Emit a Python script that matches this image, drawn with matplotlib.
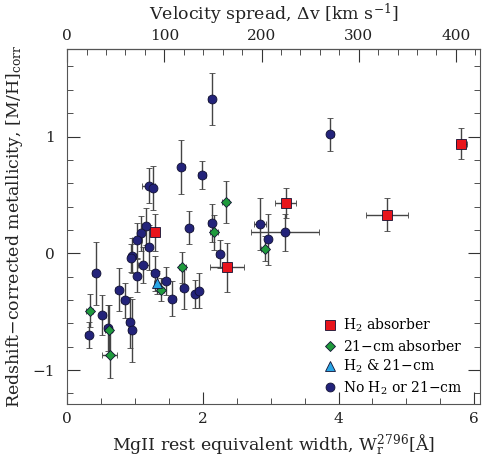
import numpy as np
import matplotlib.pyplot as plt
from matplotlib.lines import Line2D
from matplotlib.ticker import MultipleLocator, FixedLocator

plt.rcParams['font.family'] = ['DejaVu Serif']
plt.rcParams['mathtext.fontset'] = 'dejavuserif'

# H2 absorbers
h2_w = [1.29, 2.35, 3.22, 4.71, 5.81]
h2_werr = [0.05, 0.25, 0.16, 0.31, 0.08]
h2_m = [0.18, -0.12, 0.43, 0.33, 0.94]
h2_merr = [0.16, 0.21, 0.13, 0.14, 0.13]

# 21-cm absorbers
cm_w = [0.33, 0.61, 0.63, 1.38, 1.70, 2.17, 2.34, 2.91]
cm_werr = [0.05, 0.05, 0.11, 0.05, 0.05, 0.06, 0.05, 0.05]
cm_m = [-0.49, -0.66, -0.87, -0.31, -0.12, 0.18, 0.44, 0.04]
cm_merr = [0.14, 0.22, 0.20, 0.10, 0.13, 0.15, 0.18, 0.11]

# H2 & 21-cm
both_w = [1.33]
both_werr = [0.05]
both_m = [-0.25]
both_merr = [0.10]

# neither
no_w = [2.13, 1.68, 1.99, 1.20, 1.26, 3.88, 2.84, 2.96, 3.21, 2.13, 2.25, 1.80,
        1.16, 1.09, 1.03, 1.20, 0.96, 0.94, 1.12, 1.03, 1.29, 1.46, 1.55, 1.72,
        1.89, 1.94, 0.42, 0.76, 0.85, 0.92, 0.95, 0.52, 0.32, 0.60]
no_werr = [0.05, 0.05, 0.06, 0.10, 0.05, 0.05, 0.09, 0.05, 0.50, 0.05, 0.05, 0.05,
           0.05, 0.05, 0.08, 0.05, 0.05, 0.05, 0.08, 0.05, 0.05, 0.05, 0.05, 0.05,
           0.05, 0.05, 0.05, 0.05, 0.05, 0.05, 0.05, 0.05, 0.05, 0.05]
no_m = [1.32, 0.74, 0.67, 0.58, 0.56, 1.02, 0.25, 0.12, 0.18, 0.26, -0.01, 0.22,
        0.23, 0.17, 0.11, 0.05, -0.02, -0.04, -0.10, -0.19, -0.17, -0.24, -0.39, -0.30,
        -0.35, -0.32, -0.17, -0.31, -0.40, -0.59, -0.66, -0.53, -0.70, -0.64]
no_merr = [0.22, 0.23, 0.12, 0.15, 0.19, 0.14, 0.22, 0.22, 0.16, 0.16, 0.12, 0.14,
           0.16, 0.15, 0.15, 0.19, 0.15, 0.12, 0.15, 0.14, 0.15, 0.12, 0.15, 0.18,
           0.12, 0.15, 0.27, 0.18, 0.15, 0.22, 0.27, 0.17, 0.11, 0.20]

# top axis ticks (km/s)
dv_major = [0, 100, 200, 300, 400]
dv_minor = list(range(0, 421, 20))

navy = '#23237a'
red = '#e8141c'
green = '#1f9a3c'
cyan = '#2aa6e6'
ecol = '#444444'

fig = plt.figure(figsize=(4.83, 4.57), dpi=100)
ax = fig.add_axes([0.139, 0.116, 0.854, 0.777])

eb = dict(ls='none', ecolor=ecol, elinewidth=1.0, capsize=2.5, capthick=1.0,
          markeredgecolor='#111133', markeredgewidth=0.6)
ax.errorbar(no_w, no_m, xerr=no_werr, yerr=no_merr, fmt='o', ms=6.4,
            mfc=navy, **eb)
ax.errorbar(cm_w, cm_m, xerr=cm_werr, yerr=cm_merr, fmt='D', ms=5.6,
            mfc=green, **eb)
ax.errorbar(both_w, both_m, xerr=both_werr, yerr=both_merr, fmt='^', ms=7,
            mfc=cyan, **eb)
ax.errorbar(h2_w, h2_m, xerr=h2_werr, yerr=h2_merr, fmt='s', ms=6.5,
            mfc=red, **eb)

ax.set_xlim(0, 6.08)
ax.set_ylim(-1.29, 1.75)
ax.xaxis.set_major_locator(FixedLocator([0, 2, 4, 6]))
ax.xaxis.set_minor_locator(MultipleLocator(0.5))
ax.yaxis.set_major_locator(FixedLocator([-1, 0, 1]))
ax.yaxis.set_minor_locator(MultipleLocator(0.2))
ax.tick_params(which='both', direction='in', right=True, labelsize=11, colors='#333333',
               labelcolor='#222222')
ax.tick_params(which='major', length=9)
ax.tick_params(which='minor', length=4.5)
ax.tick_params(axis='x', which='major', pad=6)
ax.tick_params(axis='y', which='major', pad=9)
for s in ax.spines.values():
    s.set_color('#555555')

ax.set_xlabel(r'MgII rest equivalent width, W$_{\rm r}^{2796}$[$\rm\AA$]', fontsize=12.5,
              color='#222222', labelpad=5)
ax.set_ylabel(r'Redshift$-$corrected metallicity, [M/H]$_{\rm corr}$', fontsize=12.5,
              color='#222222', labelpad=5)

top = ax.secondary_xaxis('top', functions=(lambda x: x * 69.8, lambda v: v / 69.8))
top.xaxis.set_major_locator(FixedLocator(dv_major))
top.xaxis.set_minor_locator(FixedLocator(dv_minor))
top.tick_params(which='both', direction='in', labelsize=11, colors='#333333',
                labelcolor='#222222')
top.tick_params(which='major', length=9, pad=4)
top.tick_params(which='minor', length=4.5)
top.set_xlabel(r'Velocity spread, $\Delta$v [km s$^{-1}$]', fontsize=12.5, color='#222222',
               labelpad=7)

handles = [
    Line2D([], [], ls='none', marker='s', ms=6.5, mfc=red, mec='#111133', mew=0.6),
    Line2D([], [], ls='none', marker='D', ms=5.6, mfc=green, mec='#111133', mew=0.6),
    Line2D([], [], ls='none', marker='^', ms=7, mfc=cyan, mec='#111133', mew=0.6),
    Line2D([], [], ls='none', marker='o', ms=6.4, mfc=navy, mec='#111133', mew=0.6),
]
labels = [r'H$_2$ absorber', r'21$-$cm absorber', r'H$_2$ & 21$-$cm', r'No H$_2$ or 21$-$cm']
ax.legend(handles, labels, loc='upper left', bbox_to_anchor=(0.625, 0.245),
          frameon=False, fontsize=10, handlelength=0.8, handletextpad=0.5,
          labelspacing=0.3, borderaxespad=0, borderpad=0)

fig.savefig('out.png', dpi=100)
